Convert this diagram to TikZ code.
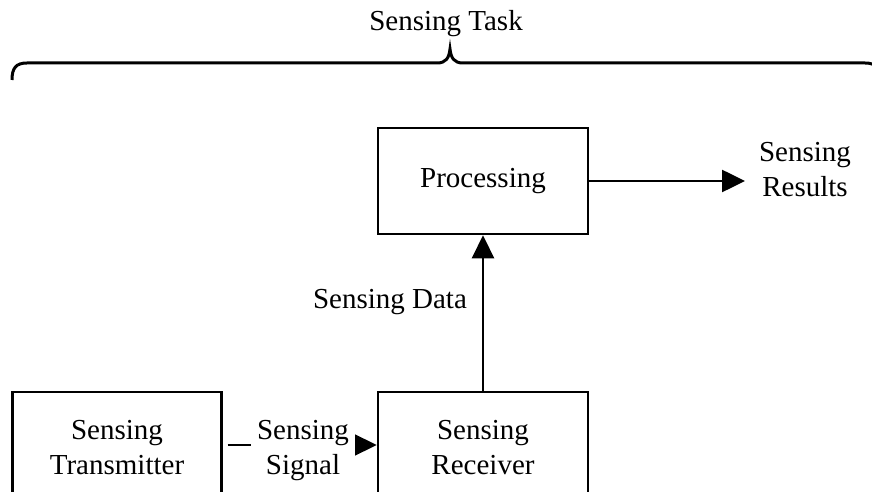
\documentclass[tikz,border=0pt]{standalone}
\usepackage{fontspec}
\setmainfont{Liberation Serif}
\usetikzlibrary{arrows.meta}
\begin{document}
\begin{tikzpicture}[x=1bp,y=-1bp,
  lbl/.style={font=\fontsize{29bp}{35bp}\selectfont, align=center, inner sep=0pt},
  box/.style={lbl, draw, line width=2.6bp, minimum height=112bp},
  arr/.style={line width=2.6bp, -{Triangle[length=23bp,width=22bp]}},
  bracestyle/.style={line width=3bp}]
\useasboundingbox (0,0) rectangle (872,492);
\clip (0,0) rectangle (872,492);
% title and brace
\node[lbl] (task) at (446,24) {Sensing Task};
\draw[bracestyle] (12,80) .. controls (12,68) and (16,63) .. (27,63) -- (437,63)
  .. controls (446,63) and (449,58) .. (450,49)
  .. controls (451,58) and (454,63) .. (463,63) -- (865,63)
  .. controls (876,63) and (880,68) .. (880,80);
% boxes
\node[box, minimum width=210bp, minimum height=106bp] (proc) at (483,181) {Processing};
\node[box, minimum width=210bp] (recv) at (483,448) {Sensing\\Receiver};
\node[box, minimum width=208.5bp] (trans) at (117,448) {Sensing\\Transmitter};
% outputs
\coordinate (resend) at (745,181);
\node[lbl] (results) at (805,170) {Sensing\\Results};
\draw[arr] (proc.east) -- (resend);
\draw[arr] (recv.north) -- (proc.south);
\node[lbl] (data) at (390,302) {Sensing Data};
\draw[arr] ([xshift=5bp,yshift=3bp]trans.east) -- ([yshift=3bp]recv.west);
\node[lbl, fill=white, inner xsep=6bp, inner ysep=2bp] (signal) at (303,451) {Sensing\\Signal};
\end{tikzpicture}
\end{document}
